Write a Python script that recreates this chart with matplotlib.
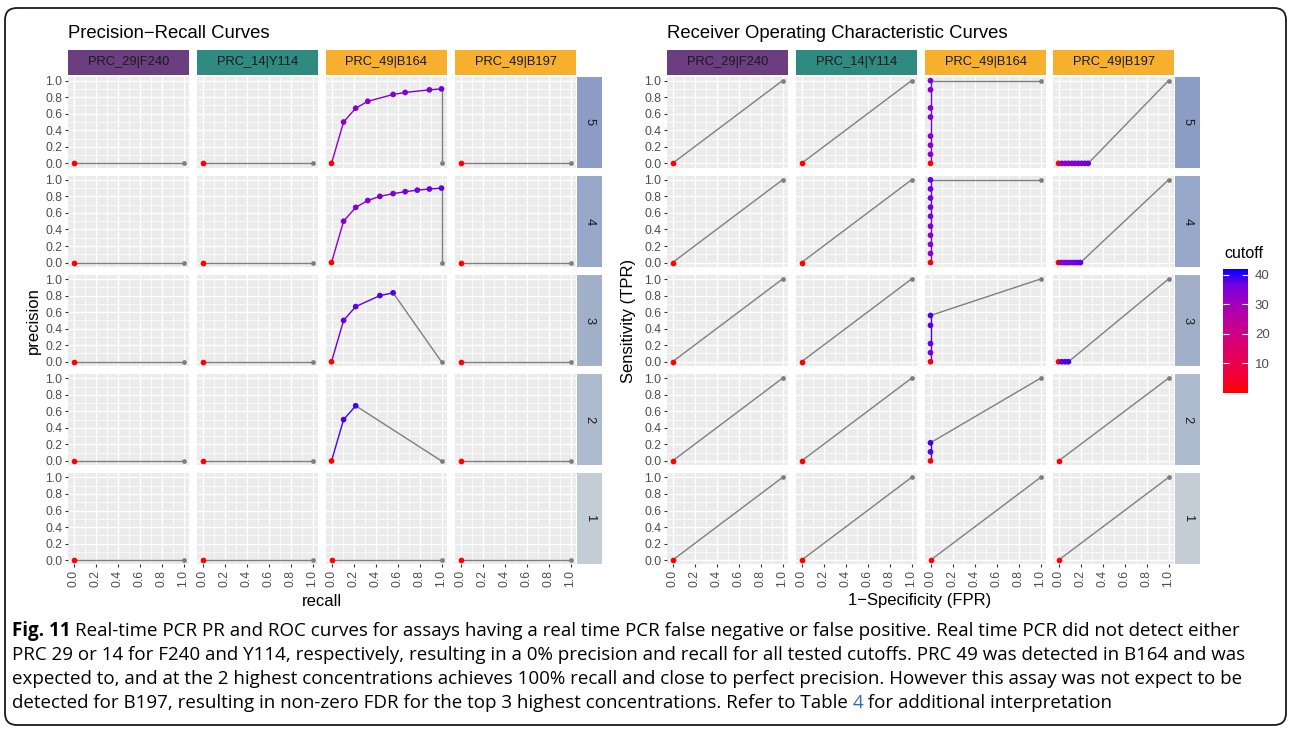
import matplotlib
matplotlib.use('Agg')
import matplotlib.pyplot as plt
from matplotlib.cm import ScalarMappable
from matplotlib.colors import LinearSegmentedColormap, Normalize
from matplotlib.patches import FancyBboxPatch, Rectangle
from matplotlib.transforms import IdentityTransform

W, H = 1290, 733

# Facets
assays = ['PRC_29|F240', 'PRC_14|Y114', 'PRC_49|B164', 'PRC_49|B197']
assay_colors = ['#6B3E7F', '#2F8A80', '#F6B02D', '#F6B02D']
reps = [5, 4, 3, 2, 1]
rep_colors = ['#8B9CC5', '#97A8CA', '#A2AFC8', '#AEBACD', '#C4CCD6']

# PRC_49|B164: recall (= TPR), precision and cutoff per replicate level
b164_recall = {
    5: [0, 0.11, 0.22, 0.33, 0.56, 0.67, 0.89, 1.0],
    4: [0, 0.11, 0.22, 0.33, 0.44, 0.56, 0.67, 0.78, 0.89, 1.0],
    3: [0, 0.11, 0.22, 0.44, 0.56],
    2: [0, 0.11, 0.22],
    1: [0],
}
b164_precision = {
    5: [0, 0.5, 0.667, 0.75, 0.833, 0.857, 0.889, 0.9],
    4: [0, 0.5, 0.667, 0.75, 0.8, 0.833, 0.857, 0.875, 0.889, 0.9],
    3: [0, 0.5, 0.667, 0.8, 0.833],
    2: [0, 0.5, 0.667],
    1: [0],
}
b164_fpr = {
    5: [0, 0, 0, 0, 0, 0, 0, 0],
    4: [0, 0, 0, 0, 0, 0, 0, 0, 0, 0],
    3: [0, 0, 0, 0, 0],
    2: [0, 0, 0],
    1: [0],
}
b164_cutoff = {
    5: [0, 33, 33.5, 34, 34.5, 35, 35.5, 36],
    4: [0, 33.5, 34, 34.5, 35, 35.5, 36, 36.5, 37, 37.5],
    3: [0, 37, 37.5, 38, 38.5],
    2: [0, 38.5, 39],
    1: [0],
}

# PRC_49|B197: false positives only (TPR stays 0)
b197_fpr = {
    5: [0, 0.03, 0.06, 0.09, 0.12, 0.15, 0.18, 0.21, 0.24, 0.27],
    4: [0, 0.025, 0.05, 0.075, 0.1, 0.125, 0.15, 0.175, 0.2],
    3: [0, 0.03, 0.06, 0.09],
    2: [0],
    1: [0],
}
b197_cutoff = {
    5: [0, 33, 33.5, 34, 34.5, 35, 35.5, 36, 36.5, 37],
    4: [0, 34, 34.5, 35, 35.5, 36, 36.5, 37, 37.5],
    3: [0, 38, 38.5, 39],
    2: [0],
    1: [0],
}

caption_lines = [
    'Real-time PCR PR and ROC curves for assays having a real time PCR false negative or false positive. Real time PCR did not detect either',
    'PRC 29 or 14 for F240 and Y114, respectively, resulting in a 0% precision and recall for all tested cutoffs. PRC 49 was detected in B164 and was',
    'expected to, and at the 2 highest concentrations achieves 100% recall and close to perfect precision. However this assay was not expect to be',
    'detected for B197, resulting in non-zero FDR for the top 3 highest concentrations. Refer to Table ',
]
# right end (px) of the first three caption lines in the reference
caption_ends = [1275, 1267, 1238]

# red -> blue gradient (Lab interpolated, like ggplot's scale_colour_gradient)
cmap = LinearSegmentedColormap.from_list('red_blue', [
    '#FF0000', '#F40031', '#E80050', '#DA006C', '#CA0089',
    '#B500A5', '#9A00C3', '#7300E0', '#0000FF'])
norm = Normalize(0, 42)
grey = '#7F7F7F'

plt.rcParams['font.family'] = ['Liberation Sans', 'DejaVu Sans']

fig = plt.figure(figsize=(W / 100, H / 100), dpi=100)

panel_w, panel_h = 121, 91
row_tops = [76.5, 175.7, 274.9, 374.1, 473.3]
plot_lefts = {'pr': [68, 197, 326, 455], 'roc': [667, 796, 925, 1053]}


def fig_rect(left, top, w, h):
    return [left / W, 1 - (top + h) / H, w / W, h / H]


def panel_series(kind, assay, rep):
    if assay == 'PRC_49|B164':
        if kind == 'pr':
            return b164_recall[rep], b164_precision[rep], b164_cutoff[rep]
        return b164_fpr[rep], b164_recall[rep], b164_cutoff[rep]
    if assay == 'PRC_49|B197' and kind == 'roc':
        return b197_fpr[rep], [0] * len(b197_fpr[rep]), b197_cutoff[rep]
    return [0], [0], [0]


def draw_facets(kind):
    lefts = plot_lefts[kind]
    end = (1, 0) if kind == 'pr' else (1, 1)
    for c, assay in enumerate(assays):
        # column strip
        fig.add_artist(Rectangle(((lefts[c]) / W, 1 - 75 / H), panel_w / W, 25 / H,
                                 transform=fig.transFigure, facecolor=assay_colors[c],
                                 edgecolor='none'))
        fig.text((lefts[c] + panel_w / 2) / W, 1 - 62.5 / H, assay, ha='center',
                 va='center', fontsize=9.3, color='#1A1A1A')
        for r, rep in enumerate(reps):
            ax = fig.add_axes(fig_rect(lefts[c], row_tops[r], panel_w, panel_h))
            ax.set_facecolor('#EBEBEB')
            for s in ax.spines.values():
                s.set_visible(False)
            ax.set_xlim(-0.05, 1.05)
            ax.set_ylim(-0.05, 1.05)
            ticks = [0, 0.2, 0.4, 0.6, 0.8, 1.0]
            ax.set_xticks(ticks)
            ax.set_yticks(ticks)
            ax.set_xticks([0.1, 0.3, 0.5, 0.7, 0.9], minor=True)
            ax.set_yticks([0.1, 0.3, 0.5, 0.7, 0.9], minor=True)
            ax.grid(which='major', color='white', linewidth=1.0)
            ax.grid(which='minor', color='white', linewidth=0.5)
            ax.set_axisbelow(True)
            ax.tick_params(which='minor', length=0)
            ax.tick_params(which='major', length=2.5, width=0.8, color='#333333',
                           labelsize=8.8, labelcolor='#4D4D4D', pad=1.5)
            ax.set_xticklabels(['0.0', '0.2', '0.4', '0.6', '0.8', '1.0'], rotation=90)
            ax.set_yticklabels(['0.0', '0.2', '0.4', '0.6', '0.8', '1.0'])
            if c != 0:
                ax.tick_params(axis='y', labelleft=False, length=0)
            if r != len(reps) - 1:
                ax.tick_params(axis='x', labelbottom=False, length=0)

            xs, ys, cuts = panel_series(kind, assay, rep)
            for i in range(1, len(xs)):
                ax.plot(xs[i - 1:i + 1], ys[i - 1:i + 1], color=cmap(norm(cuts[i])),
                        linewidth=1.0, zorder=3)
            ax.plot([xs[-1], end[0]], [ys[-1], end[1]], color=grey, linewidth=1.0, zorder=3)
            ax.scatter(xs, ys, c=cuts, cmap=cmap, norm=norm, s=17, linewidths=0,
                       zorder=4, clip_on=False)
            ax.scatter([end[0]], [end[1]], color=grey, s=12, linewidths=0, zorder=4,
                       clip_on=False)

            if c == len(assays) - 1:
                left = lefts[c] + panel_w + 1
                fig.add_artist(Rectangle((left / W, 1 - (row_tops[r] + panel_h) / H),
                                         25 / W, panel_h / H, transform=fig.transFigure,
                                         facecolor=rep_colors[r], edgecolor='none'))
                fig.text((left + 12.5) / W, 1 - (row_tops[r] + panel_h / 2) / H, str(rep),
                         ha='center', va='center', rotation=270, fontsize=9.3,
                         color='#1A1A1A')


draw_facets('pr')
draw_facets('roc')

# titles and axis labels
fig.text(68 / W, 1 - 33 / H, 'Precision\u2212Recall Curves', fontsize=13.3, va='center')
fig.text(667 / W, 1 - 33 / H, 'Receiver Operating Characteristic Curves', fontsize=13.3,
         va='center')
fig.text(322 / W, 1 - 601 / H, 'recall', fontsize=12, ha='center', va='center')
fig.text(920 / W, 1 - 601 / H, '1\u2212Specificity (FPR)', fontsize=12, ha='center',
         va='center')
fig.text(33 / W, 1 - 321 / H, 'precision', fontsize=12, rotation=90, ha='center',
         va='center')
fig.text(628 / W, 1 - 321 / H, 'Sensitivity (TPR)', fontsize=12, rotation=90,
         ha='center', va='center')

# colour legend
fig.text(1224 / W, 1 - 254 / H, 'cutoff', fontsize=11.5, va='center')
cax = fig.add_axes(fig_rect(1223, 269, 25, 124))
cb = fig.colorbar(ScalarMappable(norm=norm, cmap=cmap), cax=cax, ticks=[10, 20, 30, 40])
cb.outline.set_visible(False)
cax.yaxis.set_ticks_position('both')
cax.tick_params(direction='in', length=4, width=0.8, color='white', labelsize=9.5,
                labelcolor='#4D4D4D', labelright=True, labelleft=False, pad=5)

# frame
fig.add_artist(FancyBboxPatch((5, H - 725), 1281, 717,
                              boxstyle='round,pad=0,rounding_size=12',
                              transform=IdentityTransform(), facecolor='none',
                              edgecolor='#1A1A1A', linewidth=1.3))

# caption, sized so no line runs past where it ends in the reference
renderer = fig.canvas.get_renderer()
cap_font = ['Open Sans', 'DejaVu Sans']
x0 = 12


def text_width(s, size, weight='normal'):
    t = fig.text(0, 0, s, fontsize=size, family=cap_font, fontweight=weight)
    w = t.get_window_extent(renderer).width
    t.remove()
    return w


widths = [text_width(line, 12) for line in caption_lines[:3]]
widths[0] += text_width('Fig. 11', 12, 'bold') + 4
cap_size = min(12 * (e - x0) / w for e, w in zip(caption_ends, widths))
baselines = [636, 660, 684, 708]
head = fig.text(x0 / W, 1 - baselines[0] / H, 'Fig. 11', fontsize=cap_size,
                fontweight='bold', family=cap_font, va='baseline', color='black')
hw = head.get_window_extent(renderer).width
for i, line in enumerate(caption_lines):
    start = x0 + (hw + 4 * cap_size / 12 if i == 0 else 0)
    t = fig.text(start / W, 1 - baselines[i] / H, line, fontsize=cap_size,
                 family=cap_font, va='baseline', color='black')
    if i == len(caption_lines) - 1:
        tw = t.get_window_extent(renderer).width
        t2 = fig.text((start + tw) / W, 1 - baselines[i] / H, '4', fontsize=cap_size,
                      family=cap_font, va='baseline', color='#2A6EBB')
        w2 = t2.get_window_extent(renderer).width
        fig.text((start + tw + w2) / W, 1 - baselines[i] / H,
                 ' for additional interpretation', fontsize=cap_size,
                 family=cap_font, va='baseline', color='black')

fig.savefig('out.png', dpi=100)
